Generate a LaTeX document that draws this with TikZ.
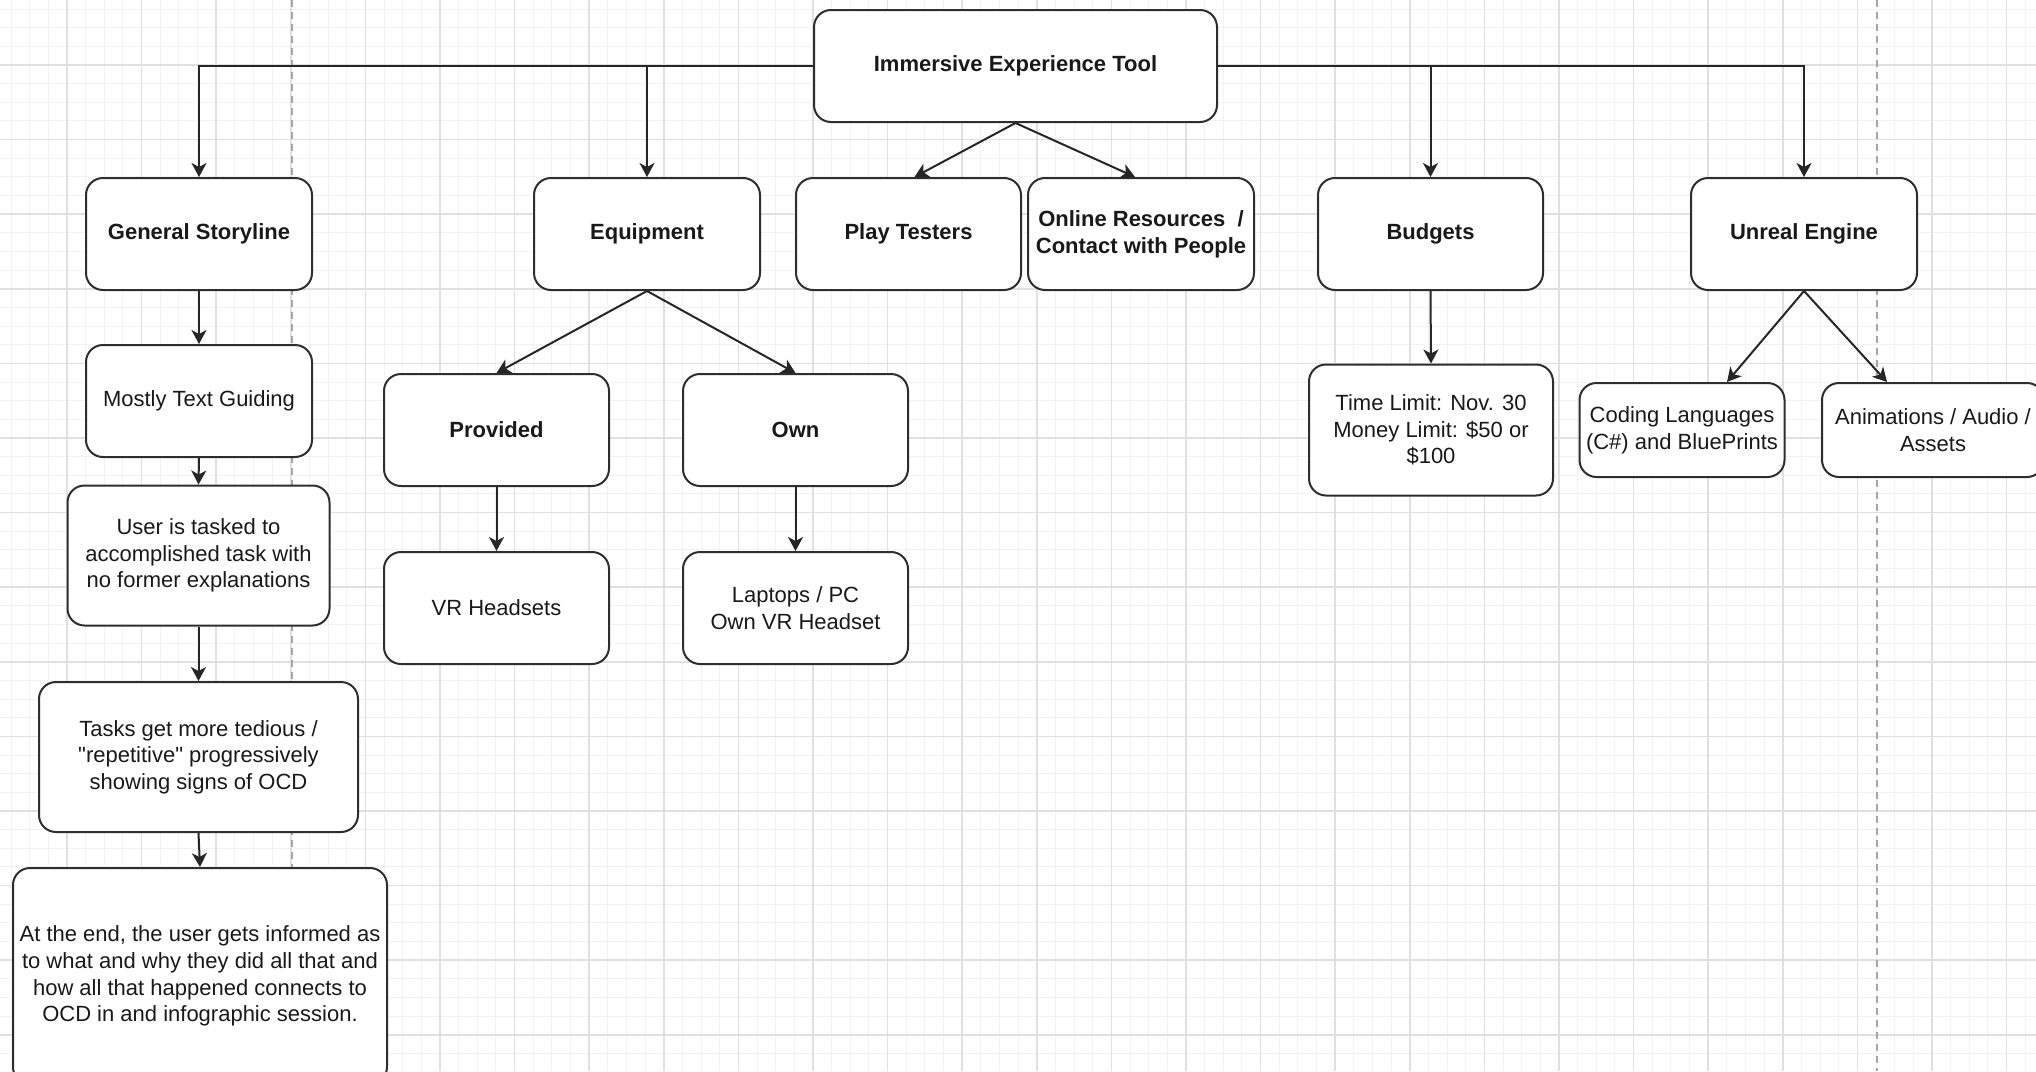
\documentclass[tikz,border=0pt]{standalone}
\usepackage{fontspec}
\setmainfont{Liberation Sans}[Ligatures=TeXOff]
\usetikzlibrary{arrows.meta}
\begin{document}
\begin{tikzpicture}[x=1pt,y=-1pt,
  box/.style={draw=black!82,fill=white,line width=2pt,rounded corners=17pt,
    align=center,inner sep=0pt,font=\fontsize{22}{26.7}\selectfont,text=black!90},
  bbox/.style={box,font=\fontsize{22}{26.7}\selectfont\bfseries},
  arr/.style={draw=black!85,line width=2pt,-{Stealth[length=14pt,width=15pt,inset=4pt]}},
  minorgrid/.style={draw=black!5,line width=1pt},
  majorgrid/.style={draw=black!12,line width=1.5pt},
  pagebreak/.style={draw=black!35,line width=1.5pt,dash pattern=on 7pt off 5pt}]
\useasboundingbox (0,0) rectangle (2036,1071);
\clip (0,0) rectangle (2036,1071);
\fill[white] (0,0) rectangle (2036,1071);
% grid
\foreach \i in {-3,...,106} \draw[minorgrid] ({67+18.65*\i},0) -- ({67+18.65*\i},1071);
\foreach \j in {-3,...,54} \draw[minorgrid] (0,{65+18.65*\j}) -- (2036,{65+18.65*\j});
\foreach \i in {0,...,27} \draw[majorgrid] ({67+74.6*\i},0) -- ({67+74.6*\i},1071);
\foreach \j in {0,...,14} \draw[majorgrid] (0,{65+74.6*\j}) -- (2036,{65+74.6*\j});
\draw[pagebreak] (292,0) -- (292,1071);
\draw[pagebreak] (1877,0) -- (1877,1071);
% nodes
\node[bbox,minimum width=403pt,minimum height=112pt] (top) at (1015.5,66) {Immersive Experience Tool};
\node[bbox,minimum width=226pt,minimum height=112pt] (gs) at (199,234) {General Storyline};
\node[bbox,minimum width=226pt,minimum height=112pt] (eq) at (647,234) {Equipment};
\node[bbox,minimum width=225pt,minimum height=112pt] (pt) at (908.5,234) {Play Testers};
\node[bbox,minimum width=226pt,minimum height=112pt] (or) at (1141,234) {Online Resources\ \ /\\Contact with People};
\node[bbox,minimum width=225pt,minimum height=112pt] (bu) at (1430.5,234) {Budgets};
\node[bbox,minimum width=226pt,minimum height=112pt] (ue) at (1804,234) {Unreal Engine};
\node[box,minimum width=226pt,minimum height=112pt] (mtg) at (199,401) {Mostly Text Guiding};
\node[box,minimum width=262pt,minimum height=140pt] (ut) at (198.5,555.5) {User is tasked to\\accomplished task with\\no former explanations};
\node[box,minimum width=319pt,minimum height=150pt] (tk) at (198.5,757) {Tasks get more tedious /\\"repetitive" progressively\\showing signs of OCD};
\node[box,minimum width=374pt,minimum height=216pt] (ae) at (200,976) {At the end, the user gets informed as\\to what and why they did all that and\\how all that happened connects to\\OCD in and infographic session.};
\node[bbox,minimum width=225pt,minimum height=112pt] (pr) at (496.5,430) {Provided};
\node[bbox,minimum width=225pt,minimum height=112pt] (ow) at (795.5,430) {Own};
\node[box,minimum width=225pt,minimum height=112pt] (vr) at (496.5,608) {VR Headsets};
\node[box,minimum width=225pt,minimum height=112pt] (lp) at (795.5,608) {Laptops / PC\\Own VR Headset};
\node[box,minimum width=244pt,minimum height=131pt] (tl) at (1431,430) {Time Limit: Nov. 30\\Money Limit: \$50 or\\\$100};
\node[box,minimum width=205pt,minimum height=94pt] (cl) at (1682,430) {Coding Languages\\(C\#) and BluePrints};
\node[box,minimum width=222pt,minimum height=94pt] (an) at (1933,430) {Animations / Audio /\\Assets};
% connectors
\draw[arr] (top.west) -| (gs.north);
\draw[arr] (top.west) -| (eq.north);
\draw[arr] (top.east) -| (bu.north);
\draw[arr] (top.east) -| (ue.north);
\draw[arr] (top.south) -- ([xshift=6pt]pt.north);
\draw[arr] (top.south) -- ([xshift=-6pt]or.north);
\draw[arr] (gs.south) -- (mtg.north);
\draw[arr] (mtg.south) -- (ut.north);
\draw[arr] (ut.south) -- (tk.north);
\draw[arr] (tk.south) -- (ae.north);
\draw[arr] (eq.south) -- (pr.north);
\draw[arr] (eq.south) -- (ow.north);
\draw[arr] (pr.south) -- (vr.north);
\draw[arr] (ow.south) -- (lp.north);
\draw[arr] (bu.south) -- (tl.north);
\draw[arr] (ue.south) -- ([xshift=45pt]cl.north);
\draw[arr] (ue.south) -- ([xshift=-46pt]an.north);
\end{tikzpicture}
\end{document}
